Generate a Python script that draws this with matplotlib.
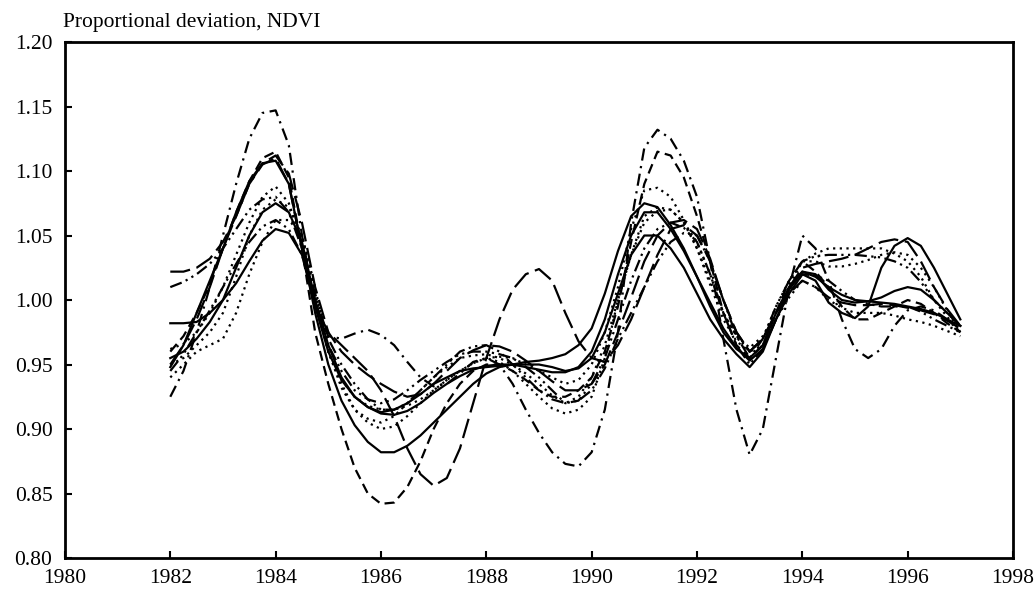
import numpy as np
import matplotlib
matplotlib.use("Agg")
import matplotlib.pyplot as plt

plt.rcParams['font.family'] = ['Liberation Serif', 'DejaVu Serif']

# quarter-year steps 1982.00 ... 1997.00 (one row = one year)
years = np.arange(1982.0, 1997.001, 0.25)

s_dashdot = [0.925, 0.945, 0.975, 1.010,
             1.050, 1.090, 1.125, 1.145,
             1.147, 1.120, 1.050, 0.995,
             0.972, 0.970, 0.974, 0.977,
             0.973, 0.965, 0.952, 0.940,
             0.933, 0.935, 0.943, 0.952,
             0.955, 0.950, 0.935, 0.915,
             0.897, 0.882, 0.873, 0.871,
             0.882, 0.915, 0.975, 1.060,
             1.118, 1.132, 1.125, 1.108,
             1.080, 1.030, 0.970, 0.915,
             0.880, 0.900, 0.955, 1.010,
             1.050, 1.040, 1.015, 0.985,
             0.962, 0.955, 0.962, 0.980,
             0.992, 0.995, 0.992, 0.985,
             0.975]
s_dashed = [0.960, 0.972, 0.990, 1.012,
            1.040, 1.068, 1.092, 1.110,
            1.115, 1.095, 1.040, 0.975,
            0.935, 0.900, 0.870, 0.850,
            0.842, 0.843, 0.855, 0.875,
            0.900, 0.920, 0.935, 0.945,
            0.950, 0.950, 0.945, 0.938,
            0.930, 0.925, 0.925, 0.930,
            0.940, 0.960, 0.995, 1.045,
            1.090, 1.115, 1.112, 1.095,
            1.065, 1.030, 0.990, 0.965,
            0.955, 0.965, 0.990, 1.015,
            1.030, 1.022, 1.010, 0.995,
            0.985, 0.985, 0.990, 0.995,
            1.000, 0.997, 0.990, 0.982,
            0.975]
s_longdash1 = [0.950, 0.965, 0.985, 1.010,
               1.040, 1.065, 1.090, 1.105,
               1.110, 1.090, 1.040, 0.995,
               0.975, 0.965, 0.955, 0.945,
               0.930, 0.910, 0.885, 0.865,
               0.856, 0.862, 0.885, 0.920,
               0.955, 0.985, 1.008, 1.020,
               1.024, 1.015, 0.990, 0.968,
               0.955, 0.952, 0.965, 0.985,
               1.010, 1.035, 1.055, 1.058,
               1.050, 1.030, 1.000, 0.975,
               0.960, 0.970, 0.990, 1.005,
               1.015, 1.010, 1.002, 0.998,
               0.996, 0.996, 0.997, 0.996,
               0.994, 0.992, 0.989, 0.984,
               0.978]
s_solid1 = [0.948, 0.965, 0.990, 1.015,
            1.040, 1.068, 1.092, 1.106,
            1.108, 1.090, 1.040, 0.990,
            0.950, 0.922, 0.903, 0.890,
            0.882, 0.882, 0.887, 0.895,
            0.905, 0.915, 0.925, 0.935,
            0.943, 0.948, 0.950, 0.952,
            0.953, 0.955, 0.958, 0.965,
            0.978, 1.005, 1.038, 1.065,
            1.075, 1.072, 1.058, 1.040,
            1.018, 0.995, 0.975, 0.962,
            0.955, 0.965, 0.990, 1.010,
            1.022, 1.020, 1.008, 1.000,
            0.998, 0.999, 1.002, 1.007,
            1.010, 1.008, 1.000, 0.990,
            0.980]
s_solid2 = [0.982, 0.982, 0.983, 0.990,
            1.000, 1.013, 1.030, 1.046,
            1.055, 1.052, 1.035, 0.995,
            0.960, 0.938, 0.925, 0.917,
            0.912, 0.911, 0.914, 0.920,
            0.928, 0.935, 0.941, 0.946,
            0.949, 0.950, 0.950, 0.948,
            0.946, 0.944, 0.944, 0.948,
            0.960, 0.985, 1.020, 1.050,
            1.068, 1.068, 1.055, 1.038,
            1.018, 0.998, 0.978, 0.963,
            0.953, 0.962, 0.985, 1.005,
            1.020, 1.015, 0.998, 0.990,
            0.986, 0.995, 1.025, 1.042,
            1.048, 1.042, 1.025, 1.005,
            0.985]
s_solid3 = [0.955, 0.960, 0.970, 0.983,
            1.000, 1.025, 1.050, 1.068,
            1.075, 1.068, 1.045, 1.000,
            0.965, 0.940, 0.925, 0.917,
            0.913, 0.915, 0.920, 0.927,
            0.935, 0.940, 0.945, 0.947,
            0.948, 0.949, 0.950, 0.950,
            0.950, 0.948, 0.945, 0.947,
            0.955, 0.975, 1.005, 1.035,
            1.050, 1.050, 1.040, 1.025,
            1.005, 0.985, 0.970, 0.958,
            0.948, 0.960, 0.985, 1.008,
            1.022, 1.018, 1.010, 1.004,
            1.000, 0.999, 0.998, 0.997,
            0.995, 0.993, 0.990, 0.985,
            0.980]
s_dotted1 = [0.962, 0.966, 0.975, 0.990,
             1.010, 1.035, 1.060, 1.080,
             1.088, 1.075, 1.045, 1.000,
             0.960, 0.935, 0.915, 0.905,
             0.900, 0.902, 0.910, 0.920,
             0.930, 0.938, 0.945, 0.951,
             0.955, 0.956, 0.955, 0.950,
             0.945, 0.940, 0.935, 0.938,
             0.950, 0.975, 1.010, 1.055,
             1.085, 1.087, 1.080, 1.062,
             1.040, 1.012, 0.985, 0.968,
             0.960, 0.970, 0.995, 1.015,
             1.030, 1.030, 1.026, 1.026,
             1.028, 1.031, 1.035, 1.037,
             1.035, 1.025, 1.010, 0.992,
             0.975]
s_dotted2 = [0.940, 0.950, 0.960, 0.965,
             0.970, 0.990, 1.020, 1.045,
             1.062, 1.062, 1.050, 1.010,
             0.960, 0.938, 0.925, 0.918,
             0.915, 0.915, 0.918, 0.923,
             0.930, 0.938, 0.945, 0.951,
             0.955, 0.952, 0.945, 0.935,
             0.925, 0.916, 0.912, 0.915,
             0.925, 0.955, 1.000, 1.035,
             1.060, 1.069, 1.070, 1.060,
             1.040, 1.015, 0.990, 0.972,
             0.960, 0.965, 0.985, 1.002,
             1.015, 1.010, 1.000, 0.994,
             0.990, 0.990, 0.990, 0.988,
             0.985, 0.983, 0.980, 0.976,
             0.972]
s_dotted3 = [0.950, 0.955, 0.965, 0.975,
             0.990, 1.018, 1.050, 1.070,
             1.078, 1.072, 1.050, 1.005,
             0.960, 0.932, 0.915, 0.908,
             0.905, 0.910, 0.920, 0.930,
             0.940, 0.948, 0.955, 0.957,
             0.958, 0.955, 0.950, 0.943,
             0.935, 0.926, 0.920, 0.925,
             0.940, 0.965, 1.000, 1.035,
             1.065, 1.072, 1.070, 1.060,
             1.045, 1.020, 0.990, 0.972,
             0.963, 0.972, 0.990, 1.010,
             1.030, 1.036, 1.040, 1.040,
             1.040, 1.040, 1.040, 1.036,
             1.030, 1.018, 1.000, 0.987,
             0.975]
s_dashdot2a = [1.010, 1.014, 1.020, 1.028,
               1.040, 1.055, 1.070, 1.078,
               1.080, 1.068, 1.040, 1.005,
               0.970, 0.950, 0.935, 0.923,
               0.915, 0.915, 0.920, 0.930,
               0.940, 0.950, 0.960, 0.964,
               0.965, 0.960, 0.950, 0.940,
               0.930, 0.923, 0.920, 0.922,
               0.930, 0.947, 0.970, 0.990,
               1.010, 1.030, 1.045, 1.052,
               1.050, 1.030, 1.000, 0.972,
               0.955, 0.970, 0.995, 1.015,
               1.030, 1.034, 1.035, 1.035,
               1.035, 1.034, 1.033, 1.030,
               1.025, 1.014, 1.000, 0.990,
               0.980]
s_dashdot2b = [0.945, 0.958, 0.975, 0.992,
               1.010, 1.028, 1.045, 1.057,
               1.062, 1.055, 1.035, 1.000,
               0.965, 0.945, 0.930, 0.923,
               0.920, 0.923, 0.930, 0.938,
               0.945, 0.952, 0.958, 0.960,
               0.960, 0.958, 0.955, 0.948,
               0.940, 0.930, 0.920, 0.922,
               0.935, 0.955, 0.985, 1.015,
               1.040, 1.055, 1.060, 1.056,
               1.045, 1.020, 0.990, 0.965,
               0.950, 0.962, 0.985, 1.005,
               1.020, 1.019, 1.015, 1.007,
               1.000, 0.997, 0.995, 0.995,
               0.995, 0.991, 0.985, 0.980,
               0.975]
s_longdash2 = [1.022, 1.022, 1.025, 1.032,
               1.045, 1.065, 1.090, 1.106,
               1.112, 1.098, 1.060, 1.010,
               0.975, 0.960, 0.950, 0.942,
               0.935, 0.929, 0.925, 0.927,
               0.935, 0.945, 0.955, 0.961,
               0.965, 0.964, 0.960, 0.953,
               0.945, 0.937, 0.930, 0.930,
               0.935, 0.950, 0.975, 1.002,
               1.030, 1.050, 1.060, 1.062,
               1.055, 1.032, 1.000, 0.975,
               0.960, 0.970, 0.990, 1.010,
               1.025, 1.028, 1.030, 1.032,
               1.035, 1.040, 1.045, 1.047,
               1.045, 1.030, 1.010, 0.993,
               0.980]

series = [s_dashdot, s_dashed, s_longdash1, s_solid1, s_solid2, s_solid3,
          s_dotted1, s_dotted2, s_dotted3, s_dashdot2a, s_dashdot2b, s_longdash2]

dash_dot = (5.5, 2.5, 1, 2.5)
dashed = (4.5, 2.5)
long_dash = (9, 3)
solid = None
dotted = (1, 2)
dash_dot_dot = (5.5, 2, 1, 2, 1, 2)
styles = [dash_dot, dashed, long_dash, solid, solid, solid,
          dotted, dotted, dotted, dash_dot_dot, dash_dot_dot, long_dash]

fig = plt.figure(figsize=(10.36, 5.90), dpi=100)
ax = fig.add_axes([0.0627, 0.0542, 0.9151, 0.8746])

for vals, st in zip(series, styles):
    line, = ax.plot(years, vals, color="black", lw=1.6, solid_joinstyle="round")
    if st is not None:
        line.set_dashes(st)

ax.set_xlim(1980, 1998)
ax.set_ylim(0.80, 1.20)
ax.set_xticks(np.arange(1980, 1999, 2))
ax.set_yticks(np.arange(0.80, 1.201, 0.05))
ax.set_yticklabels([f"{v:.2f}" for v in np.arange(0.80, 1.201, 0.05)])
ax.tick_params(direction="in", length=5, width=1.5, labelsize=15.5)
ax.tick_params(axis="y", pad=9)
ax.tick_params(axis="x", pad=8)
for sp in ax.spines.values():
    sp.set_linewidth(2)

fig.text(0.061, 1 - 27 / 590, "Proportional deviation, NDVI", fontsize=15.5,
         va="baseline", ha="left")

fig.savefig("out.png", dpi=100)
